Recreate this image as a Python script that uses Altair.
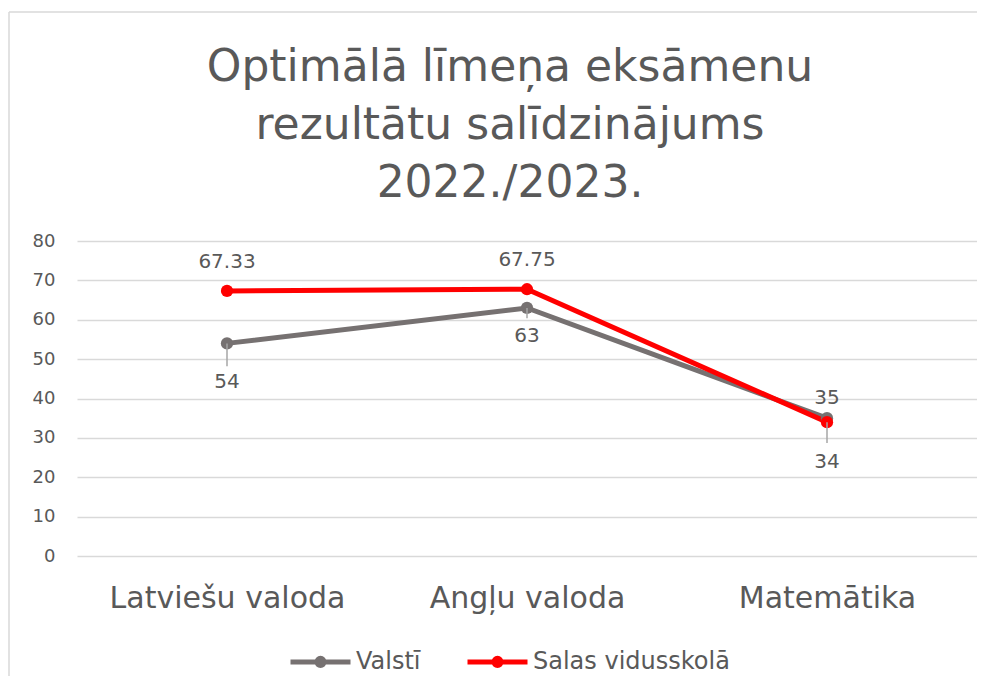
import altair as alt
import pandas as pd

categories = ["Latviešu valoda", "Angļu valoda", "Matemātika"]
series_names = ["Valstī", "Salas vidusskolā"]
valsti = [54, 63, 35]
salas = [67.33, 67.75, 34]
colors = ["#767171", "#FF0000"]
y_ticks = [0, 10, 20, 30, 40, 50, 60, 70, 80]
title_lines = ["Optimālā līmeņa eksāmenu", "rezultātu salīdzinājums", "2022./2023."]

rows = []
for name, vals in zip(series_names, [valsti, salas]):
    for c, v in zip(categories, vals):
        rows.append({"cat": c, "series": name, "value": v, "label": f"{v:g}"})
df = pd.DataFrame(rows)

TXT = "#595959"
FONT = "DejaVu Sans"
W, H = 900, 315

x_enc = alt.X(
    "cat:N", sort=categories,
    scale=alt.Scale(type="point", padding=0.5),
    axis=alt.Axis(title=None, labelAngle=0, labelFontSize=30, labelColor=TXT,
                  labelFont=FONT, labelPadding=27, labelLimit=0,
                  domain=False, ticks=False, grid=False),
)
y_enc = alt.Y(
    "value:Q", scale=alt.Scale(domain=[0, 80], nice=False, zero=True),
    axis=alt.Axis(title=None, values=y_ticks, labelFontSize=18, labelColor=TXT, labelFont=FONT,
                  labelPadding=22, domain=False, ticks=False, grid=True,
                  gridColor="#d9d9d9", gridWidth=1.3),
)

legend_path = ("M-1,0 L1,0 "
               "M-0.12,0 A0.12,0.12 0 1,1 0.12,0 A0.12,0.12 0 1,1 -0.12,0 "
               "M-0.05,0 A0.05,0.05 0 1,1 0.05,0 A0.05,0.05 0 1,1 -0.05,0")

color_enc = alt.Color(
    "series:N", sort=series_names,
    scale=alt.Scale(domain=series_names, range=colors),
    legend=alt.Legend(title=None, orient="none", direction="horizontal",
                      legendX=211, legendY=388,
                      symbolType=legend_path, symbolSize=3600, symbolStrokeWidth=5,
                      labelFontSize=24, labelColor=TXT, labelFont=FONT, labelOffset=3,
                      labelLimit=0, columnPadding=36),
)

base = alt.Chart(df)

lines = base.mark_line(strokeWidth=5, point=alt.OverlayMarkDef(filled=True, size=150)).encode(
    x=x_enc, y=y_enc, color=color_enc, detail="series:N"
)

# leader lines
lead_gray = base.transform_filter(
    "datum.series == 'Valstī' && datum.cat != 'Matemātika'"
).transform_calculate(
    y2v="datum.cat == 'Latviešu valoda' ? datum.value - 5.8 : datum.value - 2.6"
).mark_rule(color="#a6a6a6", strokeWidth=1.5).encode(
    x=x_enc, y=y_enc, y2="y2v:Q"
)
lead_red = base.transform_filter(
    "datum.series == 'Salas vidusskolā' && datum.cat == 'Matemātika'"
).transform_calculate(y2v="datum.value - 5.3").mark_rule(color="#a6a6a6", strokeWidth=1.5).encode(
    x=x_enc, y=y_enc, y2="y2v:Q"
)


def lbl(filter_expr, dy):
    return base.transform_filter(filter_expr).mark_text(
        fontSize=20, color=TXT, font=FONT, dy=dy, baseline="middle"
    ).encode(x=x_enc, y=y_enc, text="label:N")


labels = [
    lbl("datum.series == 'Salas vidusskolā' && datum.cat != 'Matemātika'", -29),
    lbl("datum.series == 'Salas vidusskolā' && datum.cat == 'Matemātika'", 40),
    lbl("datum.series == 'Valstī' && datum.cat == 'Latviešu valoda'", 39),
    lbl("datum.series == 'Valstī' && datum.cat == 'Angļu valoda'", 28),
    lbl("datum.series == 'Valstī' && datum.cat == 'Matemātika'", -20),
]

border_top = alt.Chart(pd.DataFrame({"a": [0]})).mark_rule(color="#d9d9d9", strokeWidth=1.5).encode(
    x=alt.value(-68), x2=alt.value(W + 12), y=alt.value(-229)
)
border_left = alt.Chart(pd.DataFrame({"a": [0]})).mark_rule(color="#d9d9d9", strokeWidth=1.5).encode(
    x=alt.value(-68), y=alt.value(-229), y2=alt.value(H + 140)
)

chart = alt.layer(
    border_top, border_left, lines, lead_gray, lead_red, *labels
).properties(
    width=W, height=H,
    autosize=alt.AutoSizeParams(type="none"),
    padding={"left": 69, "top": 233, "right": 0, "bottom": 120},
    title=alt.TitleParams(text=title_lines, fontSize=44, font=FONT, color=TXT,
                          fontWeight="normal", lineHeight=58, anchor="middle",
                          frame="group", offset=-195, dx=-17),
).configure_view(stroke=None)

chart.save("out.html", embed_options={"renderer": "svg", "actions": False})
